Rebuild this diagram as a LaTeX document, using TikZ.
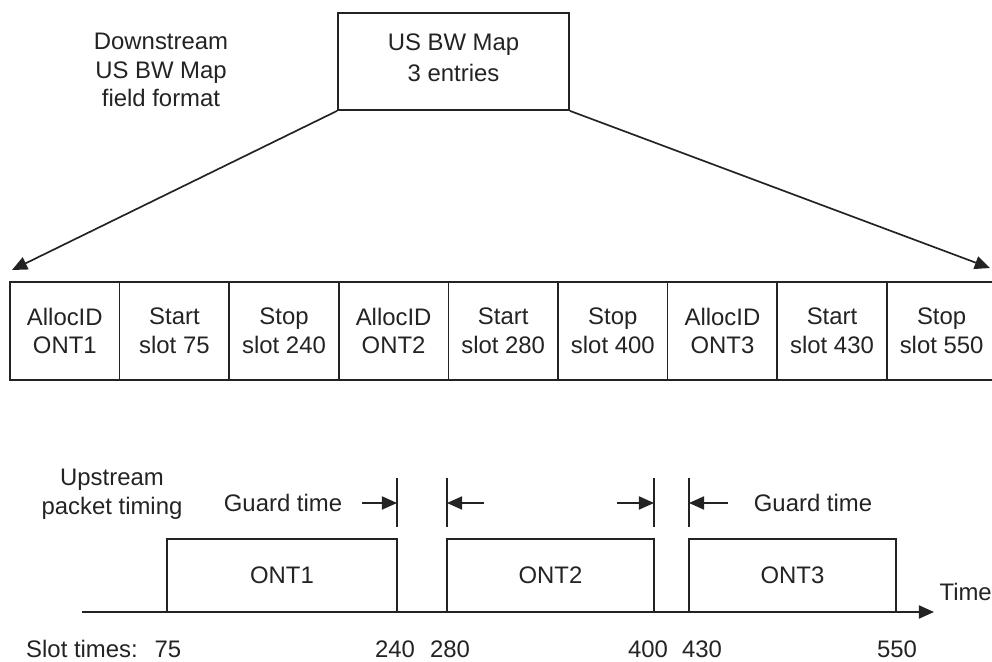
\documentclass[tikz,border=0pt]{standalone}
\usepackage{fontspec}
\setmainfont{Liberation Sans}
\usepackage{tikz}
\usetikzlibrary{arrows.meta,positioning}
\definecolor{ink}{RGB}{35,35,35}

\begin{document}
\begin{tikzpicture}[x=0.25mm,y=-0.25mm,
    every node/.style={font=\fontsize{17}{20.5}\selectfont,text=ink},
    line width=0.42mm,draw=ink,
    fieldcell/.style={rectangle,draw=ink,outer sep=0pt,inner sep=0pt,
        minimum width=27.4mm,minimum height=24.5mm,align=center},
    slotbox/.style={rectangle,draw=ink,outer sep=0pt,
        minimum height=18.25mm,anchor=south west},
    tip/.style={-{Triangle[length=3.8mm,width=3.3mm]}}]
  \useasboundingbox (0,0) rectangle (992,662);
  % Map header
  \node[rectangle,draw=ink,minimum width=57.75mm,minimum height=24.25mm,
        align=center] at (453.5,61.5) (map) {};
  \node[align=center] at (453.5,58) (maptext) {US BW Map\\[1.5pt]3 entries};
  \node[align=center] at (161,70) (dslabel) {Downstream\\US BW Map\\field format};
  % Map fields
  \node[fieldcell,anchor=north west] at (10,282) (f1) {AllocID\\ONT1};
  \node[fieldcell,right=0pt of f1] (f2) {Start\\slot 75};
  \node[fieldcell,right=0pt of f2] (f3) {Stop\\slot 240};
  \node[fieldcell,right=0pt of f3] (f4) {AllocID\\ONT2};
  \node[fieldcell,right=0pt of f4] (f5) {Start\\slot 280};
  \node[fieldcell,right=0pt of f5] (f6) {Stop\\slot 400};
  \node[fieldcell,right=0pt of f6] (f7) {AllocID\\ONT3};
  \node[fieldcell,right=0pt of f7] (f8) {Start\\slot 430};
  \node[fieldcell,right=0pt of f8] (f9) {Stop\\slot 550};
  \coordinate (lend) at (12,270);
  \coordinate (rend) at (990,268);
  \draw[tip] (map.south west) -- (lend);
  \draw[tip] (map.south east) -- (rend);
  % Upstream timing
  \coordinate (t0) at (82,612);
  \coordinate (tend) at (934,612);
  \node[slotbox,minimum width=57.5mm] at (167,612) (ont1) {};
  \node[slotbox,minimum width=51.75mm] at (447,612) (ont2) {};
  \node[slotbox,minimum width=51.75mm] at (689,612) (ont3) {};
  \node at (ont1.center) {ONT1};
  \node at (ont2.center) {ONT2};
  \node at (ont3.center) {ONT3};
  \draw[tip] (t0) -- (tend);
  \node[anchor=west] at (tend) [yshift=5mm] (timelabel) {Time};
  \node[align=center] at (112,494) (uplabel) {Upstream\\packet timing};
  % Guard times
  \draw (ont1.north east) ++(0,-12) -- ++(0,-49);
  \draw (ont2.north west) ++(0,-12) -- ++(0,-49);
  \draw (ont2.north east) ++(0,-12) -- ++(0,-49);
  \draw (ont3.north west) ++(0,-12) -- ++(0,-49);
  \coordinate (g1) at (397,503);
  \coordinate (g2) at (447,503);
  \coordinate (g3) at (654,503);
  \coordinate (g4) at (689,503);
  \node at (283,503) (guardl) {Guard time};
  \node at (813,503) (guardr) {Guard time};
  \draw[tip] (362,503) -- (g1);
  \draw[tip] (484,503) -- (g2);
  \draw[tip] (617,503) -- (g3);
  \draw[tip] (728,503) -- (g4);
  % Slot times
  \node at (82,649) (slotlabel) {Slot times:};
  \node at (168,649) {75};
  \node at (395,649) {240};
  \node at (450,649) {280};
  \node at (648,649) {400};
  \node at (702,649) {430};
  \node at (897,649) {550};
\end{tikzpicture}
\end{document}
